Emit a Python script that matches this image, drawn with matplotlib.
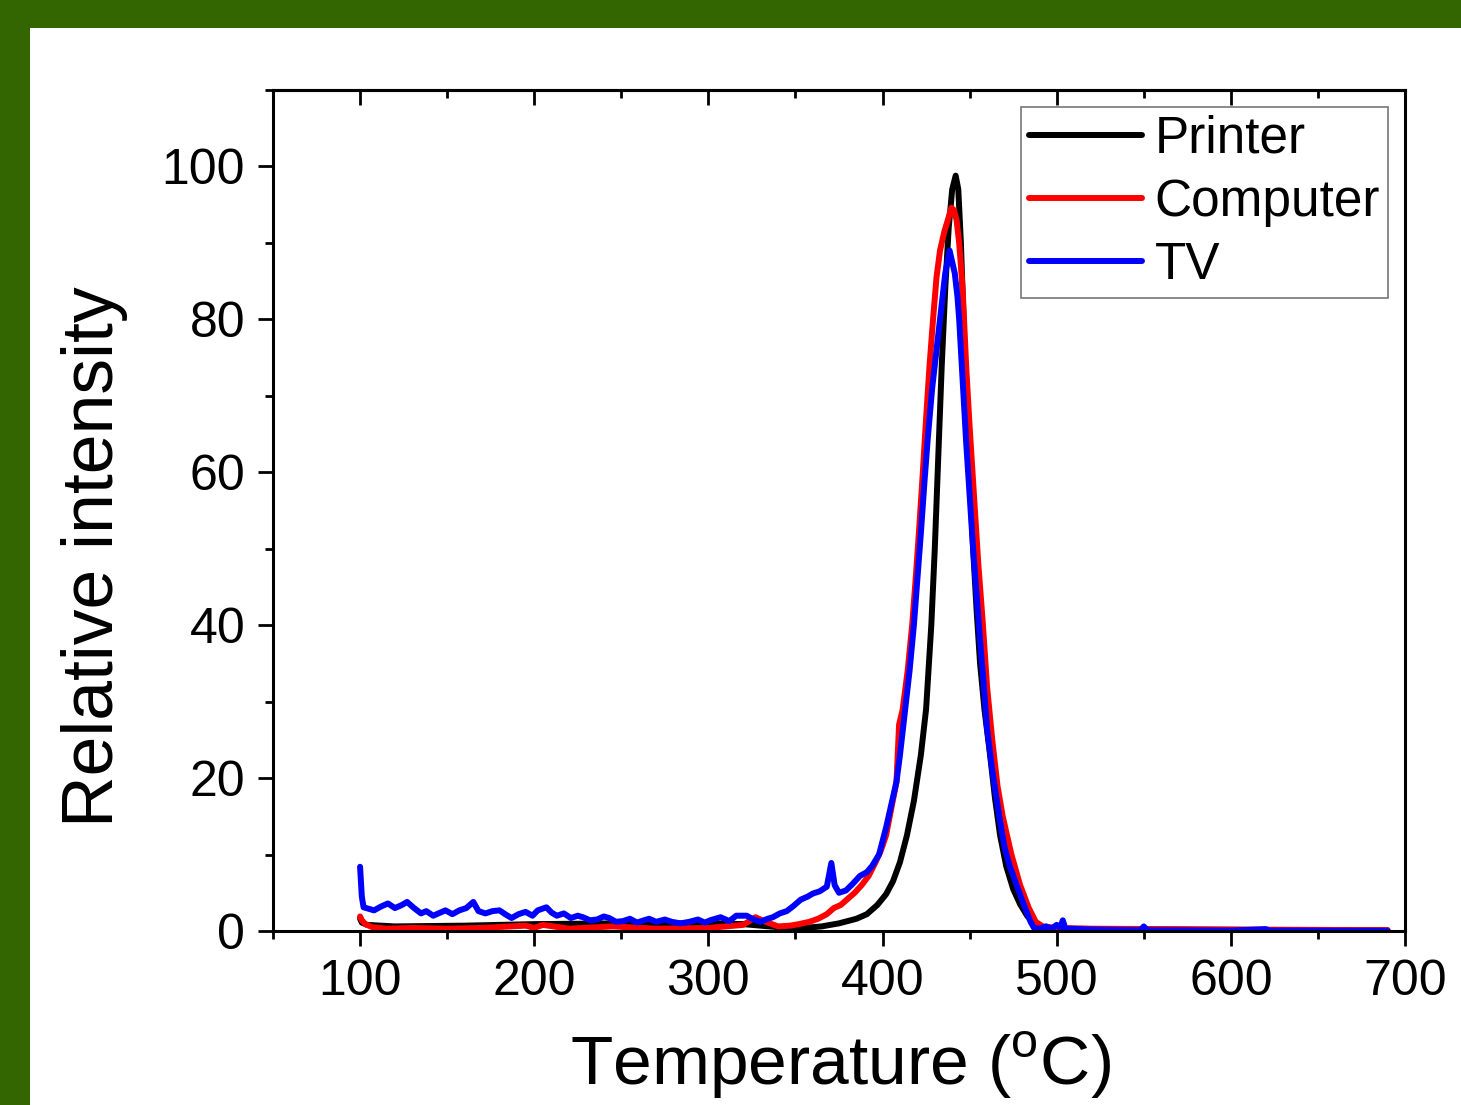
import matplotlib

matplotlib.use("Agg")
import matplotlib.pyplot as plt
from matplotlib.patches import Rectangle
from matplotlib.ticker import MultipleLocator

# ----- Matplotlib settings -----
plt.rcParams["font.family"] = "Liberation Sans"
plt.rcParams["mathtext.fontset"] = "custom"
plt.rcParams["mathtext.rm"] = "Liberation Sans"

# ----- Data -----
printer_t = [100, 101, 104, 120, 160, 200, 250, 300, 320, 340, 350, 365, 375,
             385, 391, 397, 402, 406, 410, 414, 418, 422, 425, 428, 430, 432,
             434, 436, 438, 440, 442, 443.5, 445, 446.5, 448, 450, 452, 454,
             456, 458.5, 461.5, 464.5, 467.5, 471, 475, 479, 483, 487, 492,
             500, 550, 650, 690]
printer_i = [1.6, 1.1, 0.8, 0.6, 0.7, 0.9, 1.0, 1.0, 0.9, 0.5, 0.3, 0.6, 1.0,
             1.6, 2.2, 3.4, 4.8, 6.5, 9.0, 12.5, 17.0, 23.0, 29.0, 40.0, 50.0,
             62.0, 74.0, 84.0, 92.0, 97.0, 98.8, 97.0, 90.0, 80.0, 70.0, 60.0,
             50.0, 42.0, 35.0, 29.0, 23.5, 17.5, 12.5, 8.5, 5.5, 3.5, 2.0, 1.0,
             0.5, 0.3, 0.2, 0.1, 0.1]

computer_t = [100, 101, 103, 107, 115, 130, 150, 170, 195, 200, 205, 220, 245,
              270, 300, 320, 327, 333, 340, 347, 352, 358, 363, 368, 372, 376,
              380, 384, 388, 392, 396, 399, 402, 405, 408, 409.5, 411.5, 414.4,
              417, 419, 421, 423, 425, 427, 429, 431, 433, 435.5, 437.5, 439.5,
              441, 442.5, 444, 446, 448, 450, 452.5, 455, 457.5, 460, 463, 466,
              469, 474, 479, 484, 488, 492, 500, 520, 600, 690]
computer_i = [1.9, 1.4, 0.9, 0.5, 0.3, 0.4, 0.3, 0.4, 0.7, 0.4, 0.8, 0.3, 0.6,
              0.3, 0.4, 0.8, 1.8, 1.2, 0.6, 0.7, 0.9, 1.2, 1.6, 2.2, 3.0, 3.4,
              4.2, 5.0, 6.0, 7.2, 9.0, 10.5, 12.5, 16.0, 19.5, 27.0, 28.9, 34.0,
              40.0, 46.0, 52.5, 59.5, 67.0, 74.0, 80.0, 85.5, 89.0, 91.5, 93.0,
              94.6, 94.3, 93.0, 90.0, 84.0, 74.0, 66.0, 57.0, 48.0, 40.5, 32.0,
              25.0, 19.0, 15.0, 10.0, 6.0, 3.0, 1.2, 0.6, 0.4, 0.3, 0.2, 0.1]

tv_t = [100, 101, 102, 105, 108, 112, 116, 120, 124, 127, 131, 135, 138, 142,
        146, 149, 153, 157, 161, 165, 168, 172, 176, 180, 184, 187, 191, 195,
        199, 202, 207, 210, 213, 217, 221, 225, 228, 232, 236, 240, 243, 247,
        251, 255, 259, 263, 266, 270, 275, 279, 284, 289, 294, 298, 301, 307,
        312, 316, 322, 326, 330, 334, 337, 341, 345, 349, 353, 357, 360, 364,
        368, 370.6, 372.5, 375, 379, 383, 387, 391, 394, 398, 402, 405, 408,
        410, 412.5, 415.5, 418, 420, 422, 424, 426, 428.5, 431, 433.5, 436,
        438.5, 440, 441.5, 443, 444, 446, 448, 450, 452, 454, 456, 458, 460,
        463, 467, 470, 473, 477, 481, 485, 487, 490, 494, 497, 500, 502, 503.5,
        505, 520, 548, 550, 552, 600, 620, 622, 690]
tv_i = [8.4, 4.5, 3.1, 2.9, 2.7, 3.2, 3.6, 3.0, 3.4, 3.8, 3.0, 2.3, 2.6, 2.0,
        2.4, 2.7, 2.2, 2.7, 3.0, 3.8, 2.6, 2.3, 2.6, 2.7, 2.1, 1.7, 2.2, 2.5,
        2.0, 2.7, 3.1, 2.4, 2.0, 2.3, 1.7, 2.0, 1.8, 1.4, 1.5, 1.9, 1.7, 1.2,
        1.3, 1.6, 1.1, 1.4, 1.6, 1.2, 1.5, 1.2, 1.0, 1.2, 1.5, 1.1, 1.4, 1.8,
        1.3, 2.0, 2.0, 1.5, 1.2, 1.6, 1.8, 2.3, 2.6, 3.3, 4.1, 4.5, 4.9, 5.2,
        5.8, 8.9, 6.0, 5.0, 5.3, 6.2, 7.2, 7.7, 8.5, 10.0, 13.5, 16.5, 19.5,
        23.0, 28.0, 34.0, 40.0, 46.0, 52.0, 58.5, 64.5, 71.0, 76.0, 81.0, 86.0,
        89.0, 87.5, 86.0, 83.0, 80.0, 72.0, 64.0, 57.0, 50.0, 44.0, 38.0, 32.5,
        26.5, 21.0, 15.0, 11.0, 8.5, 6.0, 3.5, 1.2, 0.4, 0.3, 0.6, 0.3, 0.8,
        0.4, 1.4, 0.3, 0.2, 0.1, 0.6, 0.1, 0.05, 0.25, 0.05, 0.0]

series = [
    ("Printer", printer_t, printer_i, "black"),
    ("Computer", computer_t, computer_i, "#ff0000"),
    ("TV", tv_t, tv_i, "#0000ff"),
]

# ----- Layout -----
width_px, height_px = 1461, 1105
DPI = 100
green = "#336600"
lw = 4.3
tick_fs = 36
legend_fs = 37
label_fs = 51.5
xlabel_fs = 50


def style_axes(ax):
    ax.set_xlim(50, 700)
    ax.set_ylim(0, 110)
    ax.xaxis.set_major_locator(MultipleLocator(100))
    ax.xaxis.set_minor_locator(MultipleLocator(50))
    ax.yaxis.set_major_locator(MultipleLocator(20))
    ax.yaxis.set_minor_locator(MultipleLocator(10))
    ax.set_xticks(range(100, 701, 100))
    ax.set_yticks(range(0, 101, 20))

    for spine in ax.spines.values():
        spine.set_linewidth(2.2)

    # outward ticks bottom/left, inward ticks on top, nothing on right
    ax.tick_params(which="both", bottom=True, left=True, top=False, right=False,
                   direction="out", width=2.0, labelsize=tick_fs)
    ax.tick_params(which="major", length=11, pad=9)
    ax.tick_params(which="minor", length=6)

    top = ax.secondary_xaxis("top")
    top.xaxis.set_major_locator(MultipleLocator(100))
    top.xaxis.set_minor_locator(MultipleLocator(50))
    top.tick_params(which="both", direction="in", width=2.0, labeltop=False)
    top.tick_params(which="major", length=11)
    top.tick_params(which="minor", length=6)
    top.spines["top"].set_linewidth(2.2)


def main():
    fig = plt.figure(figsize=(width_px / DPI, height_px / DPI), dpi=DPI)
    fig.patch.set_facecolor(green)
    # white panel behind the plot, green strip left and top
    fig.patches.append(Rectangle((30 / width_px, 0), 1, 1 - 28 / height_px,
                                 transform=fig.transFigure, facecolor="white",
                                 edgecolor="none", zorder=-10))

    ax = fig.add_axes([273 / width_px, 1 - 931 / height_px,
                       (1405 - 273) / width_px, (931 - 90) / height_px])
    ax.set_zorder(5)
    ax.set_facecolor("white")

    for name, t, inten, color in series:
        ax.plot(t, inten, color=color, lw=lw, label=name,
                solid_joinstyle="round", solid_capstyle="round")

    style_axes(ax)

    ax.set_xlabel(r"Temperature ($^{\rm o}$C)", fontsize=xlabel_fs)
    ax.xaxis.set_label_coords(0.501, -0.118)
    ax.set_ylabel("Relative intensity", fontsize=label_fs, va="center")
    ax.yaxis.set_label_coords(-0.158, 0.445)

    leg = ax.legend(loc="upper right", fontsize=legend_fs, frameon=True,
                    fancybox=False, borderaxespad=0.33, borderpad=0.15,
                    handlelength=2.2, handletextpad=0.25, labelspacing=0.28)
    leg.get_frame().set_edgecolor("#555555")
    leg.get_frame().set_linewidth(1.2)
    for line in leg.get_lines():
        line.set_linewidth(lw)

    fig.savefig("out.png", dpi=DPI, facecolor=fig.get_facecolor())


if __name__ == "__main__":
    main()
